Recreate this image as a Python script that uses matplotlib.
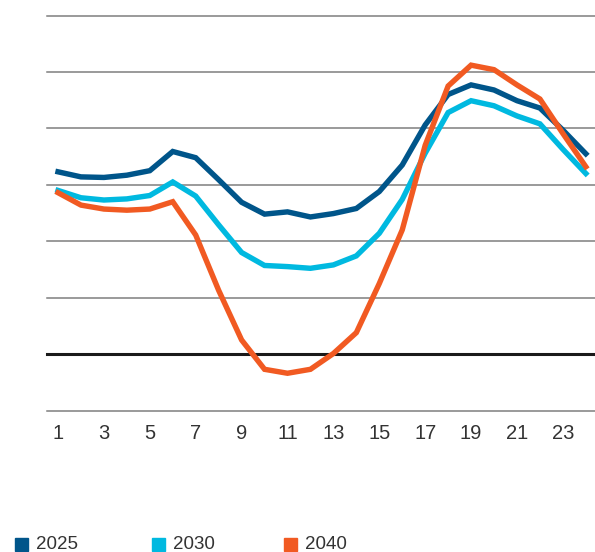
import matplotlib.pyplot as plt
from matplotlib.patches import Rectangle

plt.rcParams['font.family'] = ['Liberation Sans', 'DejaVu Sans']

hours = list(range(1, 25))
series_names = ["2025", "2030", "2040"]
colors = ["#00558a", "#00b9e0", "#f15a22"]

vals_2025 = [3.23, 3.14, 3.13, 3.17, 3.25, 3.59, 3.48, 3.09, 2.69, 2.48, 2.52, 2.43,
             2.49, 2.58, 2.88, 3.35, 4.06, 4.60, 4.77, 4.68, 4.49, 4.36, 3.97, 3.55]
vals_2030 = [2.90, 2.77, 2.73, 2.75, 2.81, 3.05, 2.80, 2.29, 1.80, 1.57, 1.55, 1.52,
             1.58, 1.74, 2.14, 2.74, 3.56, 4.28, 4.49, 4.40, 4.22, 4.08, 3.63, 3.20]
vals_2040 = [2.86, 2.64, 2.57, 2.55, 2.57, 2.70, 2.11, 1.13, 0.25, -0.27, -0.34, -0.27,
             0.01, 0.38, 1.25, 2.20, 3.70, 4.75, 5.12, 5.04, 4.77, 4.52, 3.91, 3.32]

grid_levels = [-1, 1, 2, 3, 4, 5, 6]
tick_hours = list(range(1, 24, 2))

fig = plt.figure(figsize=(5.95, 5.52), dpi=100)
ax = fig.add_axes([47 / 595, 1 - 410.5 / 552, 1 - 47 / 595, (410.5 - 15.5) / 552])

for g in grid_levels:
    ax.axhline(g, color="#7f7f7f", lw=1.1, clip_on=False, zorder=1)
ax.axhline(0, color="#1a1a1a", lw=2.2, clip_on=False, zorder=1)

for vals, c in zip([vals_2025, vals_2030, vals_2040], colors):
    ax.plot(hours, vals, color=c, lw=3.9, solid_joinstyle="miter", zorder=3)

ax.set_xlim(0.52, 24.4)
ax.set_ylim(-1, 6)
ax.set_xticks(tick_hours)
ax.set_xticklabels([str(h) for h in tick_hours], fontsize=14.5, color="#333333")
ax.tick_params(axis="x", length=0, pad=10)
ax.set_yticks([])
for s in ax.spines.values():
    s.set_visible(False)

# legend along the bottom edge
leg_x = [15, 152, 284]
for x0, name, c in zip(leg_x, series_names, colors):
    fig.patches.append(Rectangle((x0 / 595, 1 - 551 / 552), 13 / 595, 13 / 552,
                                 transform=fig.transFigure, color=c))
    fig.text((x0 + 21) / 595, 1 - 544.5 / 552, name, fontsize=13.5, color="#333333",
             va="center", ha="left")

fig.savefig("out.png", dpi=100)
